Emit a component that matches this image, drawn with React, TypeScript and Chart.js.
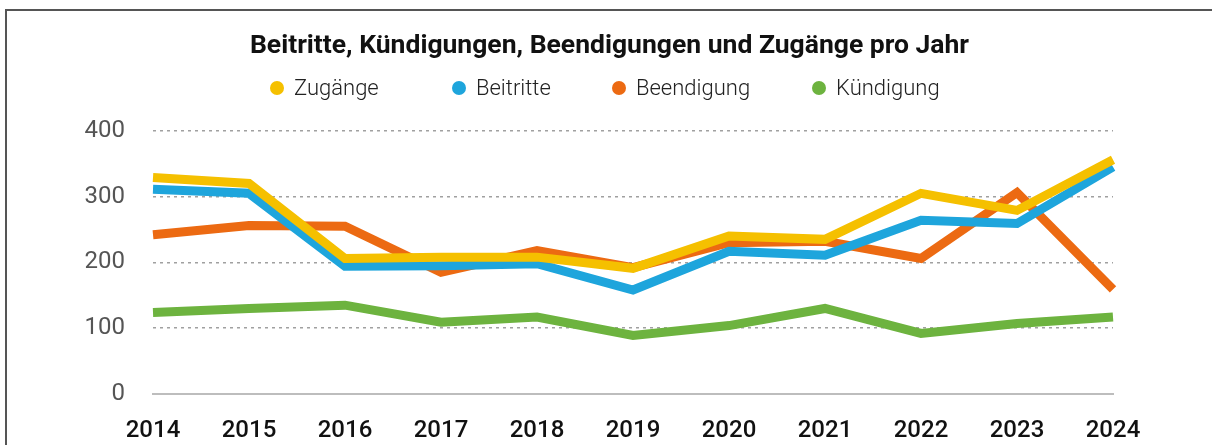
import React, { useEffect, useRef } from "react";
import { Chart, registerables } from "chart.js";

Chart.register(...registerables);

const years = ["2014", "2015", "2016", "2017", "2018", "2019", "2020", "2021", "2022", "2023", "2024"];
const zugaenge = [329, 320, 206, 208, 208, 191, 240, 235, 305, 279, 356];
const beitritte = [311, 305, 194, 195, 198, 158, 217, 211, 264, 259, 345];
const beendigung = [242, 256, 255, 185, 218, 192, 230, 232, 206, 306, 159];
const kuendigung = [124, 130, 135, 109, 117, 89, 104, 130, 92, 107, 117];
const yTicks = [0, 100, 200, 300, 400];
const titleText = "Beitritte, Kündigungen, Beendigungen und Zugänge pro Jahr";

const seriesNames = ["Zugänge", "Beitritte", "Beendigung", "Kündigung"];
const lineColors = ["#f5c000", "#1ea5dc", "#ec6a12", "#6db33f"];
const legendX = [270, 452, 612, 812];

const customLegend = {
  id: "customLegend",
  afterDraw(chart: any) {
    const ctx = chart.ctx;
    ctx.save();
    ctx.font = "300 22px Roboto";
    ctx.textBaseline = "middle";
    ctx.textAlign = "left";
    seriesNames.forEach((name, i) => {
      const x = legendX[i];
      const y = 77;
      ctx.beginPath();
      ctx.fillStyle = lineColors[i];
      ctx.arc(x, y, 7, 0, Math.PI * 2);
      ctx.fill();
      ctx.fillStyle = "#222";
      ctx.fillText(name, x + 17, y + 1);
    });
    ctx.restore();
  },
};

export default function App() {
  const ref = useRef<HTMLCanvasElement | null>(null);
  useEffect(() => {
    document.body.style.overflow = "hidden";
    const seriesData = [zugaenge, beitritte, beendigung, kuendigung];
    const chart = new Chart(ref.current as HTMLCanvasElement, {
      type: "line",
      data: {
        labels: years,
        datasets: seriesNames.map((name, i) => ({
          label: name,
          data: seriesData[i],
          borderColor: lineColors[i],
          backgroundColor: lineColors[i],
          borderWidth: 9,
          pointRadius: 0,
          tension: 0,
          fill: false,
          yAxisID: "y",
        })),
      },
      options: {
        responsive: false,
        animation: false,
        layout: { padding: 0 },
        plugins: {
          legend: { display: false },
          tooltip: { enabled: false },
          title: {
            display: true,
            text: titleText,
            color: "#111",
            font: { family: "Roboto", size: 26.5, weight: "bold" },
            padding: { top: 19, bottom: 69 },
          },
        },
        scales: {
          x: {
            offset: false,
            grid: { display: false, drawTicks: false },
            border: { display: true, color: "#bdbdbd", width: 2 },
            ticks: {
              color: "#111",
              font: { family: "Roboto", size: 24, weight: "500" },
              padding: 23,
              maxRotation: 0,
            },
            afterFit: (s: any) => {
              s.height = 51;
            },
          },
          y: {
            min: 0,
            max: 400,
            afterBuildTicks: (s: any) => {
              s.ticks = yTicks.map((v) => ({ value: v }));
            },
            grid: { color: "#a0a0a0", lineWidth: 1.5, drawTicks: false },
            border: { display: false, dash: [3, 4] },
            ticks: {
              color: "#555",
              font: { family: "Roboto", size: 24 },
              padding: 28,
            },
            afterFit: (s: any) => {
              s.width = 146;
            },
          },
          yRight: {
            position: "right",
            min: 0,
            max: 400,
            grid: { display: false, drawTicks: false },
            border: { display: false },
            ticks: { display: false },
            afterFit: (s: any) => {
              s.width = 99;
            },
          },
        },
      },
      plugins: [customLegend],
    });
    return () => chart.destroy();
  }, []);
  return (
    <div
      style={{
        position: "absolute",
        left: 5,
        top: 9,
        borderTop: "2px solid #555",
        borderLeft: "2px solid #555",
        background: "#fff",
      }}
    >
      <canvas ref={ref} width={1205} height={434} style={{ display: "block" }} />
    </div>
  );
}
